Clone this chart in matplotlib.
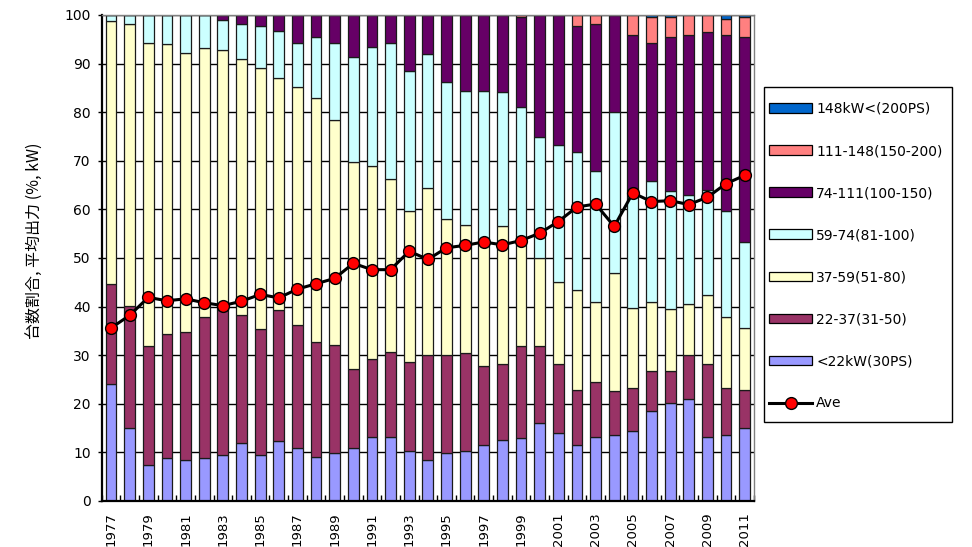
import matplotlib
matplotlib.use("Agg")
import matplotlib.pyplot as plt
import numpy as np
from matplotlib.lines import Line2D
from matplotlib.patches import Patch, Rectangle

plt.rcParams['font.family'] = ['DejaVu Sans', 'Noto Sans CJK JP']

years = list(range(1977, 2012))

# shares (%) of each power class, bottom to top
lt22 = [24.0, 15.1, 7.5, 8.9, 8.5, 8.9, 9.4, 11.9, 9.4, 12.3, 11.0, 9.0, 9.9, 11.0, 13.2, 13.2, 10.3, 8.5,
        9.9, 10.3, 11.6, 12.5, 12.9, 16.0, 14.0, 11.6, 13.2, 13.6, 14.4, 18.5, 20.1, 21.0, 13.2, 13.6, 15.1]
c22_37 = [20.7, 25.0, 24.3, 25.5, 26.2, 29.0, 29.8, 26.3, 25.9, 27.1, 25.2, 23.7, 22.3, 16.1, 16.1, 17.4, 18.3, 21.5,
          20.2, 20.2, 16.1, 15.6, 18.9, 15.8, 14.1, 11.3, 11.3, 9.0, 8.9, 8.2, 6.6, 9.0, 14.9, 9.7, 7.8]
c37_59 = [54.1, 58.1, 62.5, 59.6, 57.4, 55.3, 53.6, 52.7, 53.7, 47.7, 49.0, 50.2, 46.2, 42.6, 39.7, 35.7, 31.0, 34.4,
          27.9, 26.3, 25.8, 28.4, 21.2, 18.2, 17.0, 20.6, 16.5, 24.3, 16.4, 14.2, 12.8, 10.6, 14.2, 14.5, 12.7]
c59_74 = [1.2, 1.8, 5.7, 6.0, 7.9, 6.8, 6.2, 7.2, 8.8, 9.7, 9.1, 12.6, 15.9, 21.7, 24.4, 28.0, 28.8, 27.6,
          28.3, 27.6, 30.9, 27.6, 28.0, 24.9, 28.1, 28.3, 27.0, 33.2, 23.7, 24.9, 24.2, 22.4, 21.6, 21.8, 17.7]
c74_111 = [0.0, 0.0, 0.0, 0.0, 0.0, 0.0, 1.0, 1.9, 2.2, 3.2, 5.7, 4.5, 5.7, 8.6, 6.6, 5.7, 11.6, 8.0,
           13.7, 15.6, 15.6, 15.9, 18.6, 25.1, 26.8, 26.0, 30.2, 19.9, 32.5, 28.5, 31.8, 32.9, 32.6, 36.3, 42.2]
c111_148 = [0.0, 0.0, 0.0, 0.0, 0.0, 0.0, 0.0, 0.0, 0.0, 0.0, 0.0, 0.0, 0.0, 0.0, 0.0, 0.0, 0.0, 0.0,
            0.0, 0.0, 0.0, 0.0, 0.4, 0.0, 0.0, 2.2, 1.8, 0.0, 4.1, 5.2, 4.0, 4.1, 3.5, 3.2, 4.0]
gt148 = [0.0, 0.0, 0.0, 0.0, 0.0, 0.0, 0.0, 0.0, 0.0, 0.0, 0.0, 0.0, 0.0, 0.0, 0.0, 0.0, 0.0, 0.0,
         0.0, 0.0, 0.0, 0.0, 0.0, 0.0, 0.0, 0.0, 0.0, 0.0, 0.0, 0.5, 0.5, 0.0, 0.0, 0.9, 0.5]
ave = [35.6, 38.2, 41.9, 41.2, 41.6, 40.8, 40.2, 41.1, 42.5, 41.8, 43.6, 44.7, 45.8, 48.9, 47.6, 47.6, 51.4, 49.7,
       52.1, 52.6, 53.3, 52.7, 53.6, 55.1, 57.5, 60.5, 61.1, 56.5, 63.4, 61.6, 61.8, 61.0, 62.5, 65.3, 67.0]

series = [lt22, c22_37, c37_59, c59_74, c74_111, c111_148, gt148]
labels = ['<22kW(30PS)', '22-37(31-50)', '37-59(51-80)', '59-74(81-100)',
          '74-111(100-150)', '111-148(150-200)', '148kW<(200PS)']
colors = ['#9999FF', '#993366', '#FFFFCC', '#CCFFFF', '#660066', '#FF8080', '#0066CC']

fig = plt.figure(figsize=(9.72, 5.47), dpi=100)
ax = fig.add_axes([101.7 / 972, 1 - 501 / 547, (754 - 101.7) / 972, (501 - 15) / 547])

x = np.arange(len(years))
bottom = np.zeros(len(years))
for vals, lab, col in zip(series, labels, colors):
    v = np.array(vals)
    ax.bar(x, v, width=0.58, bottom=bottom, color=col, edgecolor='#1a1a1a', linewidth=0.9, zorder=2)
    bottom += v

ax.plot(x, ave, color='black', linewidth=2.2, marker='o', markersize=8.5,
        markerfacecolor='#FF0000', markeredgecolor='black', markeredgewidth=1.0, zorder=4)

ax.set_xlim(-0.5, len(years) - 0.5)
ax.set_ylim(0, 100)
ax.set_yticks(np.arange(0, 101, 10))
ax.yaxis.grid(True, color='black', linewidth=1.0, zorder=0)
ax.set_axisbelow(True)
ax.tick_params(axis='y', direction='out', length=3, width=1, pad=5, labelsize=10)

ax.set_xticks(x)
ax.set_xticklabels([str(y) if i % 2 == 0 else '' for i, y in enumerate(years)], rotation=90, fontsize=9.5)
ax.tick_params(axis='x', which='major', length=0, pad=8)
ax.set_xticks(np.arange(len(years) + 1) - 0.5, minor=True)
ax.tick_params(axis='x', which='minor', direction='in', length=4, width=1, color='black')

for s in ['left', 'bottom']:
    ax.spines[s].set_linewidth(1.6)
    ax.spines[s].set_color('black')
for s in ['top', 'right']:
    ax.spines[s].set_linewidth(1.0)
    ax.spines[s].set_color('#808080')

fig.text(35 / 972, 1 - 241 / 547, '台数割合, 平均出力 (%, kW)', rotation=90, ha='center', va='center',
         fontsize=11.5, family=['Noto Sans CJK JP', 'DejaVu Sans'])

handles = [Patch(facecolor=c, edgecolor='black', linewidth=0.9) for c in colors[::-1]]
handles.append(Line2D([0], [0], color='black', linewidth=2.2, marker='o', markersize=8.5,
                      markerfacecolor='#FF0000', markeredgecolor='black'))
leg_labels = labels[::-1] + ['Ave']
leg = fig.legend(handles, leg_labels, loc='upper left', bbox_to_anchor=(769 / 972, 1 - 102 / 547),
                 bbox_transform=fig.transFigure, fontsize=10, frameon=False,
                 handlelength=3.1, handleheight=0.7, handletextpad=0.3,
                 labelspacing=2.02, borderpad=0, borderaxespad=0)
fig.add_artist(Rectangle((764 / 972, 1 - 422 / 547), 188 / 972, 335 / 547, transform=fig.transFigure,
                         fill=False, edgecolor='black', linewidth=1.0))

fig.savefig('out.png', dpi=100)
